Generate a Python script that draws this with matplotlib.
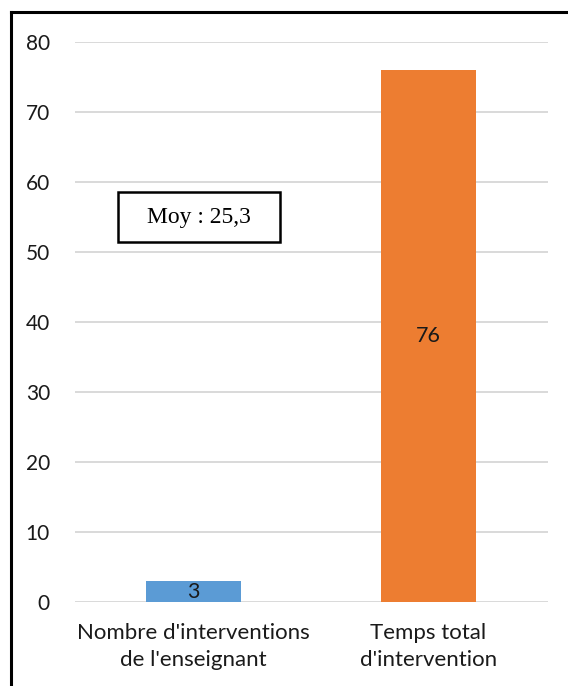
import matplotlib
matplotlib.use("Agg")
import matplotlib.pyplot as plt
from matplotlib.lines import Line2D
from matplotlib.patches import Rectangle

categories = ["Nombre d'interventions\nde l'enseignant", "Temps total\nd'intervention"]
values = [3, 76]
colors = ["#5B9BD5", "#ED7D31"]
yticks = [0, 10, 20, 30, 40, 50, 60, 70, 80]
note = "Moy : 25,3"

fig = plt.figure(figsize=(5.68, 6.86), dpi=100)
ax = fig.add_axes([75/568, (686-602)/686, (548-75)/568, (602-42)/686])

x = list(range(len(categories)))
bars = ax.bar(x, values, width=0.404, color=colors, zorder=3)
for b, v in zip(bars, values):
    ax.text(b.get_x() + b.get_width()/2, v/2, str(v), ha="center", va="center",
            fontsize=15.5, family="Lato", color="#1a1a1a", zorder=4)

ax.set_xlim(-0.502, 1.51)
ax.set_ylim(0, 80)
ax.set_yticks(yticks)
ax.set_yticklabels([str(t) for t in yticks], fontsize=15, family="Lato")
ax.set_xticks(x)
ax.set_xticklabels(categories, fontsize=16, family="Lato", linespacing=1.45)
ax.tick_params(axis="both", length=0, colors="#1a1a1a")
ax.tick_params(axis="y", pad=18)
ax.tick_params(axis="x", pad=15)
ax.grid(axis="y", color="#D9D9D9", linewidth=1.4, zorder=0)
for s in ax.spines.values():
    s.set_visible(False)

# annotation box
ax.add_patch(Rectangle(((118-75)/473, (686-242-84)/560), (280-118)/473, 50/560,
                       transform=ax.transAxes, fill=True, facecolor="white",
                       edgecolor="black", linewidth=1.8, zorder=5, clip_on=False))
ax.text(((118+280)/2-75)/473, ((686-217-84))/560, note, transform=ax.transAxes,
        ha="center", va="center", fontsize=17, family="Liberation Serif", zorder=6)

# figure frame (left and top)
fig.add_artist(Line2D([11/568, 11/568], [0, 1-12/686], color="black", linewidth=2.2,
                      transform=fig.transFigure))
fig.add_artist(Line2D([11/568, 1], [1-12/686, 1-12/686], color="black", linewidth=2.2,
                      transform=fig.transFigure))

fig.savefig("out.png", dpi=100)
